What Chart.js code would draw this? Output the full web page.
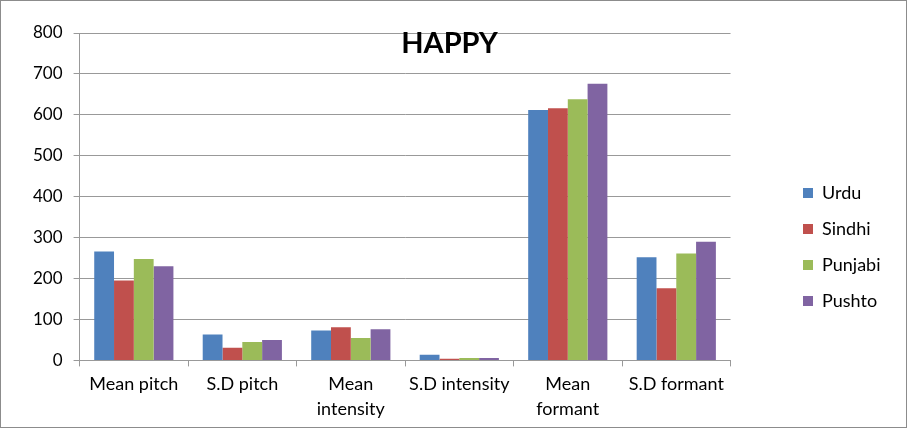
<!DOCTYPE html>
<html>
<head>
<meta charset="utf-8">
<script src="https://cdn.jsdelivr.net/npm/chart.js@4"></script>
<style>
  html, body { margin: 0; padding: 0; background: #fff; }
  #wrap { position: relative; width: 905px; height: 426px; border: 1px solid #8c8c8c; }
</style>
</head>
<body>
<div id="wrap"><canvas id="chart" width="905" height="426"></canvas></div>
<script>
// categories and series
const categories = ["Mean pitch", "S.D pitch", ["Mean", "intensity"], "S.D intensity", ["Mean", "formant"], "S.D formant"];
const urdu = [266, 63, 73, 14, 612, 252];
const sindhi = [195, 31, 81, 4, 616, 176];
const punjabi = [248, 45, 55, 6, 638, 261];
const pushto = [230, 50, 76, 6, 676, 290];
const yTicks = [0, 100, 200, 300, 400, 500, 600, 700, 800];

const FONT = "Lato, 'Liberation Sans', sans-serif";

function series(label, data, color) {
  return {
    label,
    data,
    backgroundColor: color,
    borderWidth: 0,
    barPercentage: 1,
    categoryPercentage: 0.73,
  };
}

// title sits inside the plot, roughly centred on the whole picture
const titleInside = {
  id: "titleInside",
  afterDraw(chart) {
    const ctx = chart.ctx;
    ctx.save();
    ctx.font = "bold 29px " + FONT;
    ctx.fillStyle = "#000";
    ctx.textAlign = "center";
    ctx.textBaseline = "middle";
    ctx.fillText("HAPPY", chart.width / 2 - 4, 43);
    ctx.restore();
  },
};

// legend keeps its own box but is moved off the plot edge and lower down
const legendPlace = {
  id: "legendPlace",
  afterLayout(chart) {
    const l = chart.legend;
    const w = l.right - l.left;
    const h = l.bottom - l.top;
    l.left = 784;
    l.right = l.left + w;
    l.top = 246 - h / 2;
    l.bottom = l.top + h;
  },
};

new Chart(document.getElementById("chart"), {
  type: "bar",
  data: {
    labels: categories,
    datasets: [
      series("Urdu", urdu, "#4F81BD"),
      series("Sindhi", sindhi, "#C0504D"),
      series("Punjabi", punjabi, "#9BBB59"),
      series("Pushto", pushto, "#8064A2"),
    ],
  },
  options: {
    responsive: false,
    animation: false,
    layout: { padding: { top: 32, right: 70, bottom: 0, left: 21 } },
    plugins: {
      title: { display: false },
      tooltip: { enabled: false },
      legend: {
        position: "right",
        labels: {
          boxWidth: 10,
          boxHeight: 10,
          padding: 18,
          color: "#000",
          font: { family: FONT, size: 18 },
        },
      },
    },
    scales: {
      x: {
        grid: {
          offset: true,
          drawOnChartArea: false,
          drawTicks: true,
          tickLength: 6,
          color: "#999",
        },
        border: { color: "#999" },
        ticks: {
          color: "#000",
          font: { family: FONT, size: 18, lineHeight: 1.35 },
          maxRotation: 0,
          autoSkip: false,
          padding: 6,
        },
      },
      y: {
        min: 0,
        max: 800,
        afterBuildTicks(axis) {
          axis.ticks = yTicks.map((v) => ({ value: v }));
        },
        grid: { color: "#999", tickLength: 6 },
        border: { color: "#999" },
        ticks: {
          color: "#000",
          font: { family: FONT, size: 17 },
          padding: 11,
        },
      },
    },
  },
  plugins: [titleInside, legendPlace],
});
</script>
</body>
</html>
